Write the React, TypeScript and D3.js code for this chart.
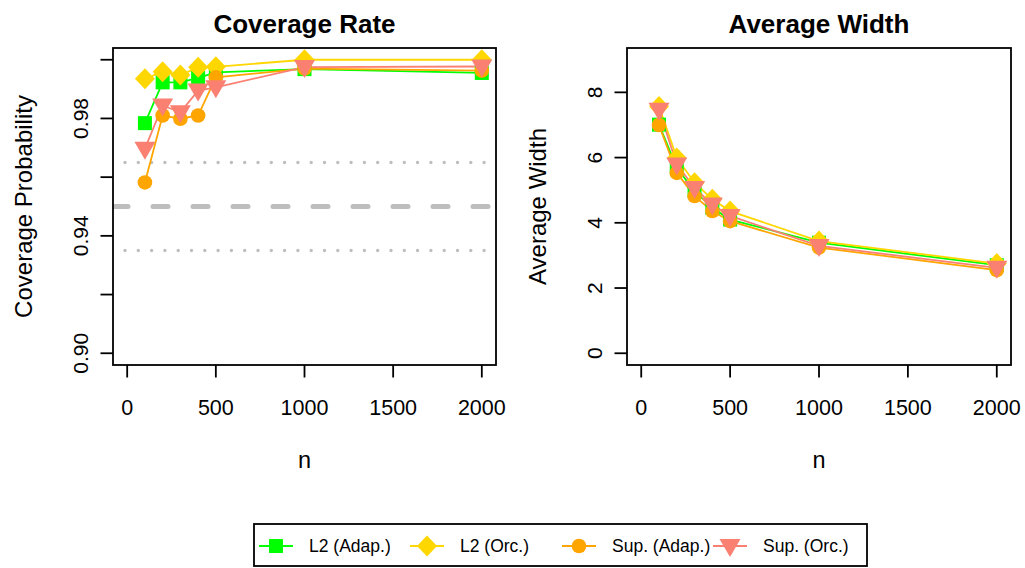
import React from "react";
import * as d3 from "d3";

const nValues = [100, 200, 300, 400, 500, 1000, 2000];
const seriesNames = ["L2 (Adap.)", "L2 (Orc.)", "Sup. (Adap.)", "Sup. (Orc.)"];
const seriesColors = ["#00FF00", "#FFD700", "#FFA500", "#FA8072"];
const seriesShapes = ["square", "diamond", "circle", "triangle"];

const covL2Adap = [0.9784, 0.9923, 0.9923, 0.9938, 0.9957, 0.9968, 0.9955];
const covL2Orc = [0.9935, 0.9959, 0.9948, 0.9974, 0.9976, 1.0, 1.0];
const covSupAdap = [0.9582, 0.981, 0.9799, 0.981, 0.994, 0.997, 0.9963];
const covSupOrc = [0.9697, 0.9844, 0.9821, 0.9895, 0.9906, 0.9975, 0.9977];

const widL2Adap = [7.01, 5.69, 4.97, 4.46, 4.1, 3.39, 2.7];
const widL2Orc = [7.57, 5.99, 5.23, 4.72, 4.36, 3.44, 2.75];
const widSupAdap = [7.0, 5.53, 4.82, 4.36, 4.05, 3.24, 2.55];
const widSupOrc = [7.47, 5.79, 5.07, 4.56, 4.21, 3.29, 2.62];

const xTicks = [0, 500, 1000, 1500, 2000];
const covTicks = [0.9, 0.92, 0.94, 0.96, 0.98, 1.0];
const covTickLabels = ["0.90", "", "0.94", "", "0.98", ""];
const widTicks = [0, 2, 4, 6, 8];
const refLines = [0.965, 0.95, 0.935];

const FONT = "'Liberation Sans', Arial, Helvetica, sans-serif";

function Marker({ shape, x, y, color }: { shape: string; x: number; y: number; color: string }) {
  if (shape === "square") return <rect x={x - 7} y={y - 7} width={14} height={14} fill={color} />;
  if (shape === "diamond")
    return <path d={`M${x},${y - 10.5}L${x + 10},${y}L${x},${y + 10.5}L${x - 10},${y}Z`} fill={color} />;
  if (shape === "circle") return <circle cx={x} cy={y} r={7.3} fill={color} />;
  return <path d={`M${x - 10.5},${y - 7}L${x + 10.5},${y - 7}L${x},${y + 11}Z`} fill={color} />;
}

type PanelProps = {
  left: number;
  right: number;
  top: number;
  bottom: number;
  title: string;
  ylab: string;
  yDomain: [number, number];
  yTicks: number[];
  yTickLabels: string[];
  series: number[][];
  refs: number[];
};

function Panel(p: PanelProps) {
  const x = d3.scaleLinear().domain([-80, 2080]).range([p.left, p.right]);
  const y = d3.scaleLinear().domain(p.yDomain).range([p.bottom, p.top]);
  const line = d3
    .line<number>()
    .x((_, i) => x(nValues[i]))
    .y((v) => y(v));
  const cx = (p.left + p.right) / 2;
  const cy = (p.top + p.bottom) / 2;
  const tick = 12.5;
  return (
    <g>
      <defs>
        <clipPath id={`clip-${p.left}`}>
          <rect x={p.left} y={p.top} width={p.right - p.left} height={p.bottom - p.top} />
        </clipPath>
      </defs>
      <g clipPath={`url(#clip-${p.left})`}>
        {p.refs.map((r, i) => (
          <line
            key={i}
            x1={p.left}
            x2={p.right}
            y1={y(r)}
            y2={y(r)}
            stroke="#BEBEBE"
            strokeWidth={i === 1 ? 5 : 3.4}
            strokeLinecap="round"
            strokeDasharray={i === 1 ? "15 25" : "0 13.3"}
            strokeDashoffset={i === 1 ? 0 : -12}
          />
        ))}
      </g>
      {p.series.map((s, si) => (
        <path key={si} d={line(s) || ""} fill="none" stroke={seriesColors[si]} strokeWidth={1.8} />
      ))}
      {p.series.map((s, si) =>
        s.map((v, i) => (
          <Marker key={`${si}-${i}`} shape={seriesShapes[si]} x={x(nValues[i])} y={y(v)} color={seriesColors[si]} />
        ))
      )}
      <rect
        x={p.left}
        y={p.top}
        width={p.right - p.left}
        height={p.bottom - p.top}
        fill="none"
        stroke="#000"
        strokeWidth={1.8}
      />
      {xTicks.map((t) => (
        <g key={t}>
          <line x1={x(t)} x2={x(t)} y1={p.bottom} y2={p.bottom + tick} stroke="#000" strokeWidth={1.8} />
          <text x={x(t)} y={415} textAnchor="middle" fontSize={21.5} fontFamily={FONT}>
            {t}
          </text>
        </g>
      ))}
      {p.yTicks.map((t, i) => (
        <g key={t}>
          <line x1={p.left - tick} x2={p.left} y1={y(t)} y2={y(t)} stroke="#000" strokeWidth={1.8} />
          {p.yTickLabels[i] && (
            <text
              transform={`translate(${p.left - 25},${y(t)}) rotate(-90)`}
              textAnchor="middle"
              fontSize={21}
              fontFamily={FONT}
            >
              {p.yTickLabels[i]}
            </text>
          )}
        </g>
      ))}
      <text x={cx} y={33} textAnchor="middle" fontSize={26} fontWeight="bold" fontFamily={FONT}>
        {p.title}
      </text>
      <text x={x(1000)} y={468} textAnchor="middle" fontSize={23.5} fontFamily={FONT}>
        n
      </text>
      <text
        transform={`translate(${p.left - 81},${cy}) rotate(-90)`}
        textAnchor="middle"
        fontSize={24}
        fontFamily={FONT}
      >
        {p.ylab}
      </text>
    </g>
  );
}

export default function App() {
  const legendX = [259, 410, 562, 713];
  const legendY = 546;
  return (
    <svg
      width={1025}
      height={568}
      style={{ position: "absolute", left: 0, top: 0, background: "#fff" }}
    >
      <rect x={0} y={0} width={1025} height={568} fill="#fff" />
      <Panel
        left={113}
        right={496}
        top={48}
        bottom={365}
        title="Coverage Rate"
        ylab="Coverage Probability"
        yDomain={[0.896, 1.004]}
        yTicks={covTicks}
        yTickLabels={covTickLabels}
        series={[covL2Adap, covL2Orc, covSupAdap, covSupOrc]}
        refs={refLines}
      />
      <Panel
        left={627}
        right={1011}
        top={48}
        bottom={365}
        title="Average Width"
        ylab="Average Width"
        yDomain={[-0.36, 9.36]}
        yTicks={widTicks}
        yTickLabels={widTicks.map(String)}
        series={[widL2Adap, widL2Orc, widSupAdap, widSupOrc]}
        refs={[]}
      />
      <rect x={254} y={524} width={613} height={42} fill="none" stroke="#000" strokeWidth={1.8} />
      {seriesNames.map((name, i) => (
        <g key={name}>
          <line
            x1={legendX[i]}
            x2={legendX[i] + 34}
            y1={legendY}
            y2={legendY}
            stroke={seriesColors[i]}
            strokeWidth={1.8}
          />
          <Marker shape={seriesShapes[i]} x={legendX[i] + 17} y={legendY} color={seriesColors[i]} />
          <text x={legendX[i] + 50} y={legendY + 6} fontSize={17.5} fontFamily={FONT}>
            {name}
          </text>
        </g>
      ))}
    </svg>
  );
}
